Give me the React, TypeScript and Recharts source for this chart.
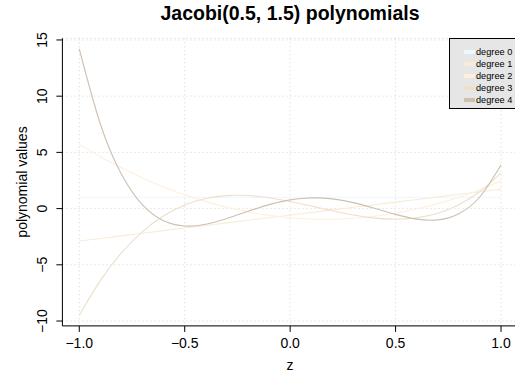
import React from 'react'
import { LineChart, Line, XAxis, YAxis, CartesianGrid } from 'recharts'

const zValues = [-1, -0.9, -0.8, -0.7, -0.6, -0.5, -0.4, -0.3, -0.2, -0.1, 0, 0.1, 0.2, 0.3, 0.4, 0.5, 0.6, 0.7, 0.8, 0.9, 1]

const degree0 = [1, 1, 1, 1, 1, 1, 1, 1, 1, 1, 1, 1, 1, 1, 1, 1, 1, 1, 1, 1, 1]
const degree1 = [-2.887, -2.656, -2.425, -2.194, -1.963, -1.732, -1.501, -1.27, -1.039, -0.808, -0.577, -0.346, -0.115, 0.115, 0.346, 0.577, 0.808, 1.039, 1.27, 1.501, 1.732]
const degree2 = [5.715, 4.621, 3.625, 2.727, 1.927, 1.225, 0.621, 0.114, -0.294, -0.604, -0.816, -0.931, -0.947, -0.865, -0.686, -0.408, -0.033, 0.441, 1.012, 1.682, 2.449]
const degree3 = [-9.487, -6.403, -3.941, -2.042, -0.643, 0.316, 0.896, 1.156, 1.159, 0.964, 0.632, 0.225, -0.197, -0.574, -0.845, -0.949, -0.825, -0.412, 0.349, 1.52, 3.162]
const degree4 = [14.201, 7.523, 3.055, 0.326, -1.084, -1.549, -1.39, -0.88, -0.242, 0.351, 0.775, 0.954, 0.865, 0.533, 0.031, -0.516, -0.936, -1.004, -0.448, 1.053, 3.873]

const seriesNames = ['degree 0', 'degree 1', 'degree 2', 'degree 3', 'degree 4']
const seriesColors = ['#F0F8FF', '#FAEBD7', '#FFEFDB', '#EEDFCC', '#CDC0B0']
const xTicks = [-1, -0.5, 0, 0.5, 1]
const yTicks = [-10, -5, 0, 5, 10, 15]

const data = zValues.map((z, i) => ({
  z,
  d0: degree0[i],
  d1: degree1[i],
  d2: degree2[i],
  d3: degree3[i],
  d4: degree4[i],
}))

const X_DOMAIN: [number, number] = [-1.08, 1.08]
const Y_DOMAIN: [number, number] = [-10.434, 15.148]
const FONT = '"Liberation Sans", Arial, Helvetica, sans-serif'

const fmt = (v: number) => {
  const s = Math.abs(v).toFixed(1)
  return v < 0 ? '\u2212' + s : s
}

const XTick = (props: any) => (
  <text x={props.x} y={343} textAnchor="middle" dominantBaseline="central" fontSize={14} fill="#000" fontFamily={FONT}>
    {fmt(props.payload.value)}
  </text>
)

const YTick = (props: any) => {
  const v = props.payload.value
  const label = v < 0 ? '\u2212' + Math.abs(v) : String(v)
  return (
    <text x={42} y={props.y} transform={`rotate(-90 42 ${props.y})`} textAnchor="middle" dominantBaseline="central" fontSize={14} fill="#000" fontFamily={FONT}>
      {label}
    </text>
  )
}

// legend drawn as a plain overlay so it does not eat plot space
const LegendBox = () => (
  <div style={{ position: 'absolute', left: 449, top: 38, width: 90, height: 71, background: '#E6E6E6', border: '1px solid #000', boxSizing: 'border-box', fontFamily: FONT }}>
    {seriesNames.map((name, i) => (
      <div key={name} style={{ position: 'absolute', left: 14, top: 12.2 * i + 6.5, height: 12, display: 'flex', alignItems: 'center' }}>
        <span style={{ display: 'inline-block', width: 11, height: 4, background: seriesColors[i], marginRight: 1 }} />
        <span style={{ fontSize: 9.2, lineHeight: '12px', color: '#000', whiteSpace: 'nowrap' }}>{name}</span>
      </div>
    ))}
  </div>
)

export default function App() {
  return (
    <div style={{ position: 'absolute', left: 0, top: 0, width: 515, height: 377, overflow: 'hidden', background: '#fff', fontFamily: FONT }}>
      <div style={{ position: 'absolute', left: 0, width: 580, top: 2, textAlign: 'center', fontSize: 19.5, fontWeight: 'bold', color: '#000' }}>
        Jacobi(0.5, 1.5) polynomials
      </div>
      <div style={{ position: 'absolute', left: 280, width: 20, top: 357, textAlign: 'center', fontSize: 14, color: '#000' }}>z</div>
      <div style={{ position: 'absolute', left: 22, top: 182, width: 0, height: 0 }}>
        <div style={{ position: 'absolute', transform: 'translate(-50%, -50%) rotate(-90deg)', whiteSpace: 'nowrap', fontSize: 14, color: '#000' }}>
          polynomial values
        </div>
      </div>
      <LineChart width={540} height={377} data={data} margin={{ top: 38.3, right: 22.1, bottom: 11.1, left: 12.4 }}>
        <CartesianGrid stroke="#D3D3D3" strokeDasharray="1 3" />
        <XAxis
          dataKey="z"
          type="number"
          domain={X_DOMAIN}
          ticks={xTicks}
          height={40}
          axisLine={{ stroke: '#000' }}
          tickLine={{ stroke: '#000' }}
          tickSize={6}
          tick={<XTick />}
          interval={0}
        />
        <XAxis xAxisId="top" orientation="top" dataKey="z" type="number" domain={X_DOMAIN} height={0} axisLine={{ stroke: '#000' }} tick={false} tickLine={false} />
        <YAxis
          type="number"
          domain={Y_DOMAIN}
          ticks={yTicks}
          width={50}
          axisLine={{ stroke: '#000' }}
          tickLine={{ stroke: '#000' }}
          tickSize={6}
          tick={<YTick />}
          interval={0}
        />
        <Line type="natural" dataKey="d0" stroke={seriesColors[0]} strokeWidth={1.1} dot={false} isAnimationActive={false} />
        <Line type="natural" dataKey="d1" stroke={seriesColors[1]} strokeWidth={1.1} dot={false} isAnimationActive={false} />
        <Line type="natural" dataKey="d2" stroke={seriesColors[2]} strokeWidth={1.1} dot={false} isAnimationActive={false} />
        <Line type="natural" dataKey="d3" stroke={seriesColors[3]} strokeWidth={1.1} dot={false} isAnimationActive={false} />
        <Line type="natural" dataKey="d4" stroke={seriesColors[4]} strokeWidth={1.1} dot={false} isAnimationActive={false} />
      </LineChart>
      <LegendBox />
    </div>
  )
}
